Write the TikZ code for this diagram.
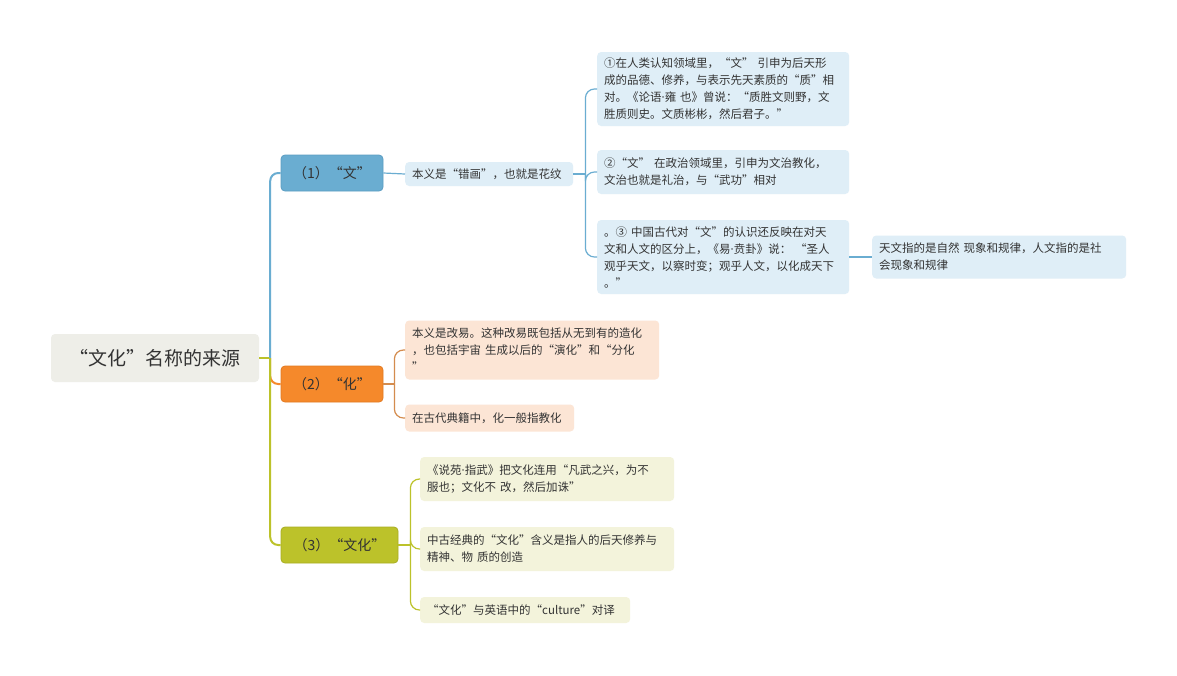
\documentclass[tikz,border=0pt]{standalone}
\usepackage{fontspec}
\setmainfont{Noto Sans CJK SC}
\newfontfamily\latinfont{Noto Sans}
\newcommand{\middot}{{\latinfont ·}}
\definecolor{txt}{HTML}{333333}
\definecolor{rootgray}{HTML}{EEEEE8}
\definecolor{wenblue}{HTML}{6AADD1}
\definecolor{wenedge}{HTML}{5B9DC2}
\definecolor{wenleaf}{HTML}{DFEEF7}
\definecolor{huaorange}{HTML}{F5892B}
\definecolor{huaedge}{HTML}{E27A22}
\definecolor{hualine}{HTML}{D48C4E}
\definecolor{hualeaf}{HTML}{FCE5D5}
\definecolor{whgreen}{HTML}{BCC22A}
\definecolor{whedge}{HTML}{A9AE22}
\definecolor{whleaf}{HTML}{F3F3DB}

\begin{document}
\begin{tikzpicture}[x=1pt,y=-1pt,
    every node/.style={text=txt,font=\fontsize{11.5}{17}\selectfont},
    rootbox/.style={fill=rootgray,rounded corners=4pt,minimum width=208pt,minimum height=48pt,font=\fontsize{19}{22}\selectfont},
    branchbox/.style={rounded corners=4pt,minimum height=36pt,inner xsep=8pt,font=\fontsize{14}{16}\selectfont,line width=0.8pt},
    leafbox/.style={rounded corners=4pt,inner xsep=7pt,inner ysep=0pt,align=left,anchor=west},
    trunk/.style={line width=2pt,rounded corners=8pt},
    twig/.style={line width=1.2pt,rounded corners=9pt}]
  \fill[white] (0,0) rectangle (1177,675);
  \useasboundingbox (0,0) rectangle (1177,675);

  \node[rootbox] (root) at (155,358) {“文化”名称的来源};

  \node[branchbox,fill=wenblue,draw=wenedge,minimum width=102pt] (wen) at (332,173) {（1）“文”};
  \node[branchbox,fill=huaorange,draw=huaedge,minimum width=102pt] (hua) at (332,384) {（2）“化”};
  \node[branchbox,fill=whgreen,draw=whedge,minimum width=117pt] (wenhua) at (339.5,545) {（3）“文化”};

  \node[leafbox,fill=wenleaf,text width=154pt,minimum height=24pt] (wenyi) at (405,174) {本义是“错画”，也就是花纹};
  \node[leafbox,fill=wenleaf,text width=238pt,minimum height=74pt] (wena) at (597,89)
    {①在人类认知领域里，“文” 引申为后天形\\成的品德、修养，与表示先天素质的“质”相\\对。《论语\middot 雍 也》曾说：“质胜文则野，文\\胜质则史。文质彬彬，然后君子。”};
  \node[leafbox,fill=wenleaf,text width=238pt,minimum height=44pt] (wenb) at (597,172)
    {②“文” 在政治领域里，引申为文治教化，\\文治也就是礼治，与“武功”相对};
  \node[leafbox,fill=wenleaf,text width=238pt,minimum height=74pt] (wenc) at (597,257)
    {。③ 中国古代对“文”的认识还反映在对天\\文和人文的区分上，《易\middot 贲卦》说： “圣人\\观乎天文，以察时变；观乎人文，以化成天下\\。”};
  \node[leafbox,fill=wenleaf,text width=240pt,minimum height=43pt] (tianwen) at (872,257)
    {天文指的是自然 现象和规律，人文指的是社\\会现象和规律};

  \node[leafbox,fill=hualeaf,text width=240pt,minimum height=59pt] (huaa) at (405,350)
    {本义是改易。这种改易既包括从无到有的造化\\，也包括宇宙 生成以后的“演化”和“分化\\”};
  \node[leafbox,fill=hualeaf,text width=155pt,minimum height=27pt] (huab) at (405,418)
    {在古代典籍中，化一般指教化};

  \node[leafbox,fill=whleaf,text width=240pt,minimum height=44pt] (wha) at (420,479)
    {《说苑\middot 指武》把文化连用“凡武之兴，为不\\服也；文化不 改，然后加诛”};
  \node[leafbox,fill=whleaf,text width=240pt,minimum height=44pt] (whb) at (420,549)
    {中古经典的“文化”含义是指人的后天修养与\\精神、物 质的创造};
  \node[leafbox,fill=whleaf,text width=196pt,minimum height=26pt] (whc) at (420,610)
    {“文化”与英语中的“culture”对译};

  \draw[trunk,whgreen] (root.east) -- ++(11,0) coordinate (hub);
  \draw[trunk,wenblue] (hub) |- (wen.west);
  \draw[trunk,huaorange] (hub) |- (hua.west);
  \draw[trunk,whgreen] (hub) |- (wenhua.west);

  \draw[twig,wenblue] (wen.east) -- (wenyi.west);
  \begin{scope}[twig,wenblue]
    \draw (wenyi.east) -- ++(12,0) coordinate (wenfork);
    \draw (wenfork) |- (wena.west);
    \draw (wenfork) |- (wenb.west);
    \draw (wenfork) |- (wenc.west);
    \draw (wenc.east) -- (tianwen.west);
  \end{scope}

  \begin{scope}[twig,hualine]
    \draw (hua.east) -- ++(11,0) coordinate (huafork);
    \draw (huafork) |- (huaa.west);
    \draw (huafork) |- (huab.west);
  \end{scope}

  \begin{scope}[twig,whgreen]
    \draw (wenhua.east) -- ++(12,0) coordinate (whfork);
    \draw (whfork) |- (wha.west);
    \draw (whfork) |- (whb.west);
    \draw (whfork) |- (whc.west);
  \end{scope}
\end{tikzpicture}
\end{document}
